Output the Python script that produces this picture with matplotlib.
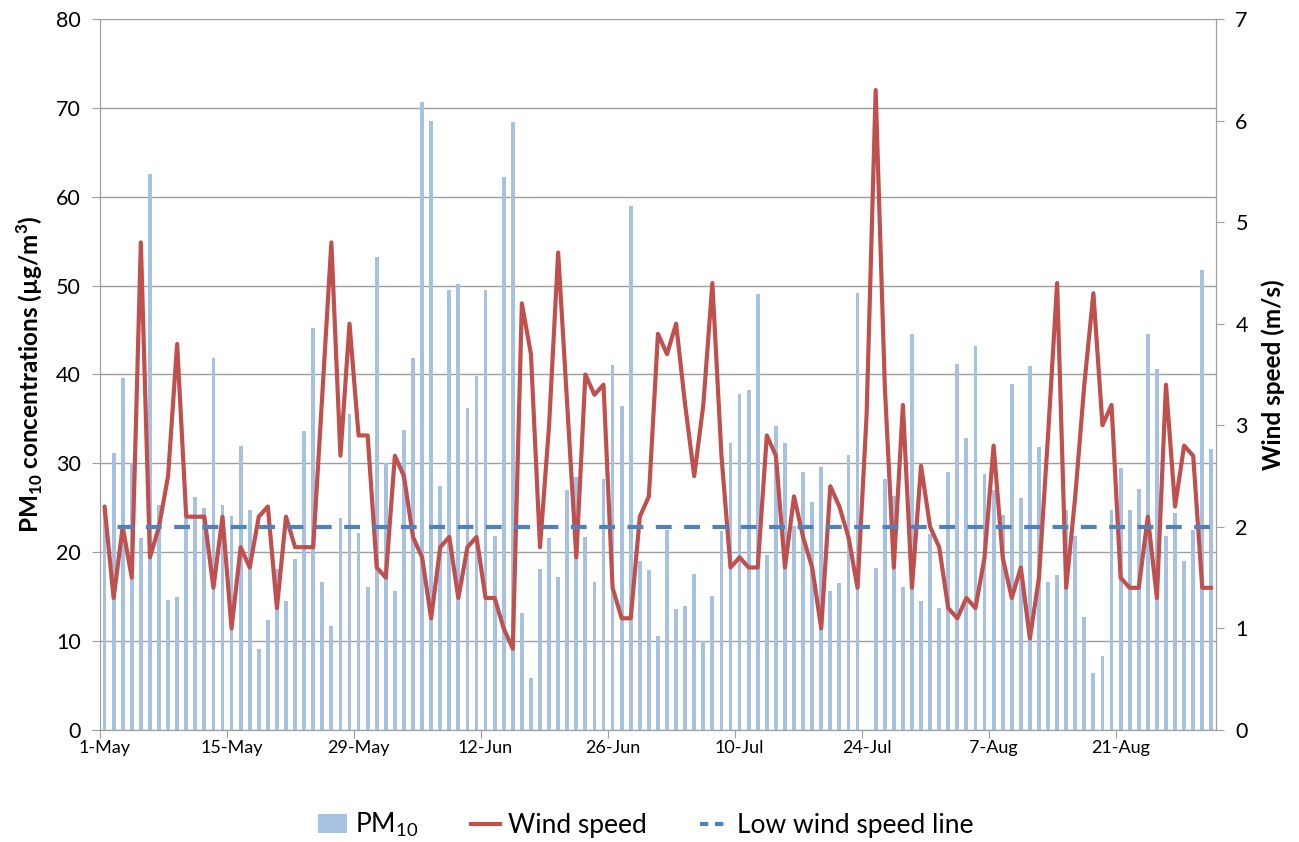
import numpy as np
import matplotlib
matplotlib.use('Agg')
import matplotlib.pyplot as plt
from matplotlib.patches import Patch
from matplotlib.lines import Line2D

plt.rcParams['font.family'] = ['Lato', 'DejaVu Sans']
plt.rcParams['mathtext.fontset'] = 'custom'
plt.rcParams['mathtext.rm'] = 'Lato'
plt.rcParams['mathtext.bf'] = 'Lato:bold'

# daily PM10 (ug/m3), 1-May .. 31-Aug; day 84 (24-Jul) missing
pm10 = [25.3, 31.2, 39.6, 30.0, 21.6, 62.5, 25.3, 14.6, 15.0, 23.9,
        26.2, 25.0, 41.8, 25.3, 24.1, 32.0, 24.7, 9.1, 12.4, 18.1,
        14.5, 19.2, 33.6, 45.2, 16.7, 11.7, 23.9, 35.5, 22.2, 16.1,
        53.2, 30.0, 15.6, 33.8, 41.8, 70.7, 68.5, 27.4, 49.5, 50.2,
        36.2, 39.8, 49.5, 21.8, 62.2, 68.4, 13.2, 5.9, 18.1, 21.6,
        17.2, 27.0, 28.5, 21.7, 16.7, 28.2, 41.1, 36.5, 58.9, 19.0,
        18.0, 10.6, 22.5, 13.6, 14.0, 17.6, 10.0, 15.1, 22.4, 32.3,
        37.8, 38.3, 49.1, 19.7, 34.2, 32.3, 23.0, 29.0, 25.6, 29.6,
        15.6, 16.5, 30.9, 49.2, np.nan, 18.2, 28.2, 26.3, 16.1, 44.5,
        14.5, 22.0, 13.7, 29.0, 41.2, 32.8, 43.2, 28.8, 27.0, 24.2,
        38.9, 26.1, 41.0, 31.8, 16.7, 17.4, 24.7, 21.8, 12.7, 6.4,
        8.3, 24.7, 29.5, 24.7, 27.1, 44.5, 40.6, 21.8, 24.4, 19.0,
        22.5, 51.8, 31.6]

# daily mean wind speed (m/s)
wind = [2.2, 1.3, 2.0, 1.5, 4.8, 1.7, 2.0, 2.5, 3.8, 2.1,
        2.1, 2.1, 1.4, 2.1, 1.0, 1.8, 1.6, 2.1, 2.2, 1.2,
        2.1, 1.8, 1.8, 1.8, 3.3, 4.8, 2.7, 4.0, 2.9, 2.9,
        1.6, 1.5, 2.7, 2.5, 1.9, 1.7, 1.1, 1.8, 1.9, 1.3,
        1.8, 1.9, 1.3, 1.3, 1.0, 0.8, 4.2, 3.7, 1.8, 3.0,
        4.7, 3.2, 1.7, 3.5, 3.3, 3.4, 1.4, 1.1, 1.1, 2.1,
        2.3, 3.9, 3.7, 4.0, 3.2, 2.5, 3.2, 4.4, 2.7, 1.6,
        1.7, 1.6, 1.6, 2.9, 2.7, 1.6, 2.3, 1.9, 1.6, 1.0,
        2.4, 2.2, 1.9, 1.4, 3.1, 6.3, 3.4, 1.6, 3.2, 1.4,
        2.6, 2.0, 1.8, 1.2, 1.1, 1.3, 1.2, 1.7, 2.8, 1.7,
        1.3, 1.6, 0.9, 1.5, 2.9, 4.4, 1.4, 2.3, 3.4, 4.3,
        3.0, 3.2, 1.5, 1.4, 1.4, 2.1, 1.3, 3.4, 2.2, 2.8,
        2.7, 1.4, 1.4]

low_wind = 2.0
tick_days = [0, 14, 28, 42, 56, 70, 84, 98, 112]
tick_labels = ['1-May', '15-May', '29-May', '12-Jun', '26-Jun',
               '10-Jul', '24-Jul', '7-Aug', '21-Aug']

days = np.arange(len(pm10))
grey = '#9E9E9E'
bar_col = '#A7C1E1'
red = '#C0504D'
blue = '#4F81BD'

fig = plt.figure(figsize=(12.99, 8.42), dpi=100)
ax = fig.add_axes([0.077, 0.133, 0.859, 0.8445])

ax.bar(days, pm10, width=0.42, color=bar_col, zorder=2)
ax.set_xlim(-0.5, len(days) - 0.5)
ax.set_ylim(0, 80)
ax.set_yticks(np.arange(0, 81, 10))
ax.yaxis.grid(True, color=grey, lw=1)
ax.set_axisbelow(True)

# ticks on category boundaries, labels on category centres
ax.set_xticks(np.arange(-0.5, len(days), 14))
ax.set_xticklabels([])
ax.set_xticks(tick_days, minor=True)
ax.set_xticklabels(tick_labels, minor=True, fontsize=13)
ax.tick_params(axis='x', which='major', length=6, color=grey)
ax.tick_params(axis='x', which='minor', length=0, pad=7)
ax.tick_params(axis='y', length=6, color=grey, labelsize=15.5, pad=8)

for s in ['left', 'bottom', 'right']:
    ax.spines[s].set_color(grey)
ax.spines['top'].set_visible(False)

ax.set_ylabel(r'PM$_{\mathbf{10}}$ concentrations (µg/m$^{\mathbf{3}}$)',
              fontweight='bold', fontsize=17.5, labelpad=8)

ax2 = ax.twinx()
ax2.plot(days, wind, color=red, lw=3.0, solid_joinstyle='round',
         solid_capstyle='round', zorder=3)
ax2.plot(days, np.full(len(days), low_wind), color=blue, lw=3.0,
         linestyle=(3.8, (3.8, 3.0)), zorder=4)
ax2.set_ylim(0, 7)
ax2.set_yticks(np.arange(0, 8, 1))
ax2.tick_params(axis='y', length=6, color=grey, labelsize=15.5, pad=8)
for s in ['left', 'bottom', 'right']:
    ax2.spines[s].set_color(grey)
ax2.spines['top'].set_visible(False)
ax2.set_ylabel('Wind speed (m/s)', fontweight='bold', fontsize=17.5,
               labelpad=10)

handles = [Patch(facecolor=bar_col, edgecolor='none'),
           Line2D([], [], color=red, lw=3.0),
           Line2D([], [], color=blue, lw=3.0, linestyle=(0, (2.0, 1.6)))]
labels = [r'PM$_{10}$', 'Wind speed', 'Low wind speed line']
fig.legend(handles, labels, loc='center', bbox_to_anchor=(0.497, 0.02),
           ncol=3, frameon=False, fontsize=19, handlelength=1.1,
           handletextpad=0.3, columnspacing=2.0)

fig.savefig('out.png', dpi=100)
